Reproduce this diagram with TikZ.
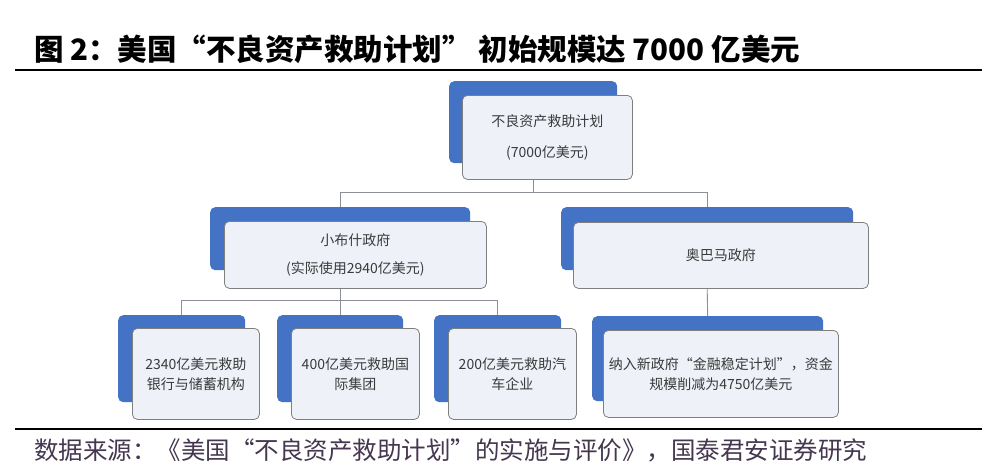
\documentclass[tikz,border=0pt]{standalone}
\usepackage{fontspec}
\setmainfont{Noto Sans CJK SC}
\definecolor{barblue}{HTML}{4472C4}
\definecolor{boxfill}{HTML}{EEF1F8}
\definecolor{edgegray}{HTML}{7F7F7F}
\definecolor{linegray}{HTML}{8A8F99}
\definecolor{txtgray}{HTML}{3A3A3A}
\definecolor{srccol}{HTML}{45374F}
\tikzset{
  backbox/.style={fill=barblue, rounded corners=5pt, draw=none, anchor=north west, inner sep=0pt},
  frontbox/.style={draw=edgegray, fill=boxfill, rounded corners=5pt, line width=0.8pt,
    anchor=north west, align=center, inner sep=2pt, text=txtgray},
  link/.style={draw=linegray, line width=0.9pt},
  rule/.style={draw=black, line width=1.8pt},
}
\begin{document}
\begin{tikzpicture}[x=1pt,y=-1pt]
\useasboundingbox[fill=white] (0,0) rectangle (997,474);
% title
\node[anchor=west, font=\fontsize{29.5}{32}\selectfont\bfseries, inner sep=0pt] (title) at (34,49)
  {图 2：美国“不良资产救助计划” 初始规模达 7000 亿美元};
\coordinate (r1a) at (15,70);
\coordinate (r1b) at (982,70);
\draw[rule] (r1a) -- (r1b);
% top node
\node[backbox, minimum width=168pt, minimum height=82pt] (tb) at (449,81) {};
\node[frontbox, minimum width=170pt, minimum height=84pt, font=\fontsize{14}{31}\selectfont] (tf) at (462,95)
  {不良资产救助计划\\(7000亿美元)};
% mid nodes
\node[backbox, minimum width=260pt, minimum height=63pt] (lb) at (210,207) {};
\node[frontbox, minimum width=262pt, minimum height=67pt, font=\fontsize{14}{28}\selectfont] (lf) at (224,221)
  {小布什政府\\(实际使用2940亿美元)};
\node[backbox, minimum width=292pt, minimum height=63pt] (rb) at (561,207) {};
\node[frontbox, minimum width=295pt, minimum height=66pt, font=\fontsize{14}{28}\selectfont] (rf) at (573,222)
  {奥巴马政府};
% bottom nodes
\node[backbox, minimum width=127pt, minimum height=87pt] (b1b) at (118,315) {};
\node[frontbox, minimum width=127pt, minimum height=91pt, font=\fontsize{14}{20}\selectfont] (b1f) at (132,328)
  {2340亿美元救助\\银行与储蓄机构};
\node[backbox, minimum width=126pt, minimum height=87pt] (b2b) at (277,315) {};
\node[frontbox, minimum width=128pt, minimum height=91pt, font=\fontsize{14}{20}\selectfont] (b2f) at (291,328)
  {400亿美元救助国\\际集团};
\node[backbox, minimum width=127pt, minimum height=87pt] (b3b) at (434,315) {};
\node[frontbox, minimum width=128pt, minimum height=91pt, font=\fontsize{14}{20}\selectfont] (b3f) at (448,328)
  {200亿美元救助汽\\车企业};
\node[backbox, minimum width=231pt, minimum height=85pt] (b4b) at (592,316) {};
\node[frontbox, minimum width=235pt, minimum height=87pt, font=\fontsize{14}{20}\selectfont] (b4f) at (603,330)
  {纳入新政府“金融稳定计划”，资金\\规模削减为4750亿美元};
% connectors
\coordinate (y1) at (0,192);
\coordinate (y2) at (0,300);
\draw[link] (tb.center |- tf.south) -- (tb.center |- y1);
\draw[link] (lb.north) |- (rb.north |- y1) -- (rb.north);
\draw[link] (lb.center |- lf.south) -- (lb.center |- y2);
\draw[link] (b1b.north) |- (b3b.north |- y2) -- (b3b.north);
\draw[link] (b2b.north |- y2) -- (b2b.north);
\draw[link] (rb.center |- rf.south) -- (b4b.north);
% bottom rule and source
\coordinate (r2a) at (15,429);
\coordinate (r2b) at (982,429);
\draw[rule] (r2a) -- (r2b);
\node[anchor=west, font=\fontsize{24.5}{26}\selectfont, text=srccol, inner sep=0pt] (src) at (34,450)
  {数据来源：《美国“不良资产救助计划”的实施与评价》，国泰君安证券研究};
\end{tikzpicture}
\end{document}
